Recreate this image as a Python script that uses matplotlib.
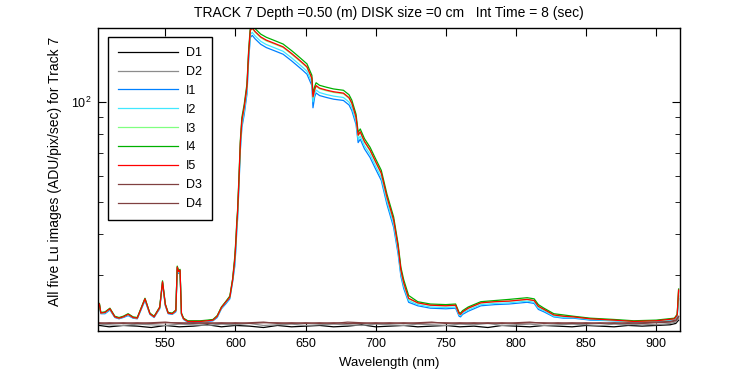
import numpy as np
import matplotlib.pyplot as plt
from matplotlib.ticker import NullFormatter, LogLocator, FixedLocator

plt.rcParams['font.family'] = ['Liberation Sans', 'DejaVu Sans']
plt.rcParams['mathtext.default'] = 'regular'

# wavelength grid for the illuminated images (nm)
wl = [503, 504, 507, 510.5, 514, 517, 520, 523.5, 527, 530, 535.5, 539, 542, 546, 548, 550, 552, 555,
      557.5, 558.5, 559.5, 560.5, 561.5, 563, 566, 570, 575, 580, 584, 587, 590, 593, 596, 598,
      599.5, 600.3, 601, 601.5, 602.5, 603.5, 604.6, 606.3, 608.2, 609.4, 610.6, 612, 614, 618, 622,
      628, 634, 640, 644, 648, 651, 654.5, 655.3, 656.5, 657.5, 660, 665, 670, 677, 681, 683, 686,
      687.5, 689, 692, 696, 700, 704, 708, 712.8, 716, 718, 720, 723.5,
      730, 739, 750, 757, 759.5, 760.5, 762, 766, 775, 785, 795, 808, 813, 816, 820, 827, 834, 841,
      853, 870, 884, 900, 913, 915, 916]

I1 = [24.4, 23.0, 23.0, 23.6, 22.4, 22.2, 22.4, 22.7, 22.3, 22.2, 25.2, 22.9, 22.4, 23.8, 28.4, 24.3, 23.0, 22.9,
      23.3, 31.4, 30.4, 30.7, 22.9, 22.1, 21.7, 21.7, 21.7, 21.8, 21.9, 22.4, 23.8, 24.6, 25.5, 28.7,
      31.9, 35.9, 41.2, 44.1, 55.5, 71.4, 83.7, 91.9, 105.5, 133, 156.3, 158.7, 154.9, 149.2, 145.8,
      142.5, 139.2, 133, 128.7, 124.5, 121.2, 112, 96, 103.6, 106.4, 104.5, 103.1, 101.9, 101, 97.9, 94.2, 85.5,
      75.4, 77.2, 72.2, 68, 62.7, 58, 49.2, 41.9, 34.8, 29.8, 27.4, 24.9,
      24.3, 23.9, 23.8, 23.9, 22.6, 22.5, 22.9, 23.4, 24.3, 24.5, 24.6, 24.9, 24.7, 23.7, 23.3, 22.5, 22.3, 22.3,
      22.0, 21.9, 21.7, 21.8, 22.1, 22.6, 25.5]

I2 = [24.5, 23.1, 23.1, 23.7, 22.5, 22.3, 22.5, 22.8, 22.4, 22.3, 25.4, 23.0, 22.5, 23.9, 28.6, 24.4, 23.1, 23.0,
      23.4, 31.6, 30.6, 30.9, 23.0, 22.2, 21.8, 21.8, 21.8, 21.9, 22.0, 22.5, 23.9, 24.8, 25.7, 28.9,
      32.6, 36.6, 41.9, 44.9, 56.4, 73.0, 85.5, 93.8, 107.7, 135.8, 159.6, 162, 158.1, 152.3, 148.9,
      145.5, 142.1, 135.8, 131.4, 127.1, 123.8, 114.4, 100, 105.7, 108.6, 106.7, 105.2, 104.1, 103.1, 99.9, 96.2, 87.3,
      77, 78.9, 73.7, 69.5, 64, 59.2, 50.2, 42.8, 35.5, 30.3, 27.9, 25.2,
      24.5, 24.1, 24.0, 24.1, 22.8, 22.7, 23.1, 23.6, 24.5, 24.7, 24.8, 25.1, 24.9, 23.9, 23.5, 22.6, 22.4, 22.4,
      22.1, 21.9, 21.7, 21.8, 22.1, 22.7, 26.0]

I3 = [24.6, 23.1, 23.2, 23.8, 22.5, 22.3, 22.5, 22.9, 22.4, 22.3, 25.5, 23.0, 22.5, 24.0, 28.7, 24.5, 23.1, 23.0,
      23.5, 31.8, 30.8, 31.1, 23.0, 22.2, 21.8, 21.8, 21.8, 21.9, 22.0, 22.6, 24.0, 24.9, 25.8, 29.1,
      33.3, 37.5, 42.9, 46.0, 57.8, 74.8, 87.7, 96.2, 110.4, 139.3, 163.7, 166.2, 162.2, 156.2, 152.7,
      149.3, 145.8, 139.3, 134.8, 130.3, 127, 117.3, 103.1, 108.5, 111.4, 109.5, 108, 106.8, 105.8, 102.5, 98.7, 89.6,
      79, 80.9, 75.6, 71.2, 65.7, 60.7, 51.5, 43.9, 36.4, 31, 28.4, 25.5,
      24.8, 24.4, 24.3, 24.4, 23.0, 22.9, 23.3, 23.9, 24.8, 25.0, 25.1, 25.4, 25.2, 24.2, 23.7, 22.8, 22.6, 22.5,
      22.2, 22.0, 21.8, 21.9, 22.2, 22.8, 26.8]

I4 = [24.7, 23.2, 23.3, 23.9, 22.6, 22.4, 22.6, 23.0, 22.5, 22.4, 25.6, 23.1, 22.6, 24.1, 28.9, 24.6, 23.2, 23.1,
      23.6, 32.0, 31.0, 31.3, 23.1, 22.3, 21.9, 21.9, 21.9, 22.0, 22.1, 22.7, 24.1, 25.0, 26.0, 29.3,
      34.1, 38.4, 44, 47.1, 59.3, 76.7, 89.9, 98.6, 113.2, 142.8, 167.8, 170.3, 166.3, 160.1, 156.6,
      153, 149.4, 142.8, 138.2, 133.6, 130.2, 120.3, 105.7, 111.2, 114.2, 112.2, 110.7, 109.4, 108.4, 105.1, 101.2, 91.8,
      81, 82.9, 77.5, 73, 67.3, 62.2, 52.8, 45, 37.3, 31.7, 29.1, 26.1,
      25.0, 24.6, 24.5, 24.6, 23.2, 23.1, 23.5, 24.1, 25.0, 25.2, 25.4, 25.7, 25.5, 24.5, 23.9, 23.0, 22.8, 22.6,
      22.3, 22.1, 21.9, 22.0, 22.3, 22.9, 27.3]

I5 = [24.6, 23.1, 23.2, 23.8, 22.5, 22.3, 22.5, 22.9, 22.4, 22.3, 25.5, 23.0, 22.5, 24.0, 28.7, 24.5, 23.1, 23.0,
      23.5, 31.8, 30.8, 31.1, 23.0, 22.2, 21.8, 21.8, 21.8, 21.9, 22.0, 22.6, 24.0, 24.9, 25.8, 29.1,
      33.4, 37.6, 43.1, 46.2, 58.1, 75.2, 88.1, 96.7, 111, 140, 164.5, 167, 163, 157, 153.5,
      150, 146.5, 140, 135.5, 131, 127.6, 117.9, 103.6, 109, 112, 110, 108.5, 107.3, 106.3, 103, 99.2, 90,
      79.4, 81.3, 76, 71.6, 66, 61, 51.8, 44.1, 36.6, 31.1, 28.5, 25.6,
      24.8, 24.4, 24.3, 24.4, 23.0, 22.9, 23.3, 23.9, 24.8, 25.0, 25.1, 25.4, 25.2, 24.2, 23.7, 22.8, 22.6, 22.5,
      22.2, 22.0, 21.8, 21.9, 22.2, 22.8, 27.1]

# dark images
dark_wl = [503, 510, 520, 530, 540, 550, 560, 570, 580, 590, 600, 610, 620, 630, 640, 650, 660, 670, 680, 690,
           700, 710, 720, 730, 740, 750, 760, 770, 780, 790, 800, 810, 820, 830, 840, 850, 860, 870, 880, 890,
           900, 910, 914, 916]
D1 = [21.2, 21.0, 21.2, 21.1, 20.9, 21.2, 21.0, 21.1, 21.3, 21.0, 21.2, 21.1, 20.9, 21.2, 21.0, 21.1, 21.2, 21.0,
      21.1, 21.3, 21.0, 21.1, 21.2, 21.0, 21.1, 21.2, 21.0, 21.1, 20.9, 21.2, 21.1, 21.0, 21.2, 21.1, 21.0, 21.2,
      21.1, 21.0, 21.2, 21.1, 21.2, 21.3, 21.5, 22.0]
D2 = [21.4, 21.3, 21.2, 21.4, 21.3, 21.2, 21.4, 21.3, 21.2, 21.4, 21.3, 21.5, 21.2, 21.3, 21.4, 21.2, 21.3, 21.4,
      21.3, 21.2, 21.4, 21.3, 21.2, 21.4, 21.3, 21.2, 21.4, 21.3, 21.5, 21.2, 21.3, 21.4, 21.2, 21.3, 21.4, 21.3,
      21.2, 21.4, 21.3, 21.4, 21.3, 21.5, 21.7, 22.3]
D3 = [21.6, 21.5, 21.6, 21.5, 21.6, 21.7, 21.5, 21.6, 21.5, 21.6, 21.5, 21.6, 21.7, 21.5, 21.6, 21.5, 21.6, 21.5,
      21.7, 21.6, 21.5, 21.6, 21.5, 21.6, 21.7, 21.5, 21.6, 21.5, 21.6, 21.5, 21.6, 21.7, 21.5, 21.6, 21.5, 21.6,
      21.5, 21.6, 21.5, 21.6, 21.7, 21.8, 22.0, 22.6]
D4 = [21.5, 21.6, 21.5, 21.6, 21.5, 21.6, 21.6, 21.5, 21.6, 21.5, 21.6, 21.5, 21.6, 21.6, 21.5, 21.6, 21.5, 21.6,
      21.5, 21.5, 21.6, 21.5, 21.6, 21.5, 21.6, 21.6, 21.5, 21.6, 21.5, 21.6, 21.5, 21.6, 21.6, 21.5, 21.6, 21.5,
      21.6, 21.5, 21.6, 21.5, 21.6, 21.7, 21.9, 22.5]

series = [
    ("D1", dark_wl, D1, "black"),
    ("D2", dark_wl, D2, "#8c8c8c"),
    ("I1", wl, I1, "#0080ff"),
    ("I2", wl, I2, "#40e8ff"),
    ("I3", wl, I3, "#80ff80"),
    ("I4", wl, I4, "#00b000"),
    ("I5", wl, I5, "#ff0000"),
    ("D3", dark_wl, D3, "#804040"),
    ("D4", dark_wl, D4, "#804040"),
]

fig = plt.figure(figsize=(7.5, 3.75), dpi=100)
ax = fig.add_axes([98/750, 44/375, 582/750, 303/375])

for name, x, y, c in series:
    ax.plot(x, y, color=c, lw=0.9, label=name)

ax.set_yscale("log")
ax.set_xlim(502, 917)
ax.set_ylim(20.4, 167)
ax.xaxis.set_major_locator(FixedLocator([550, 600, 650, 700, 750, 800, 850, 900]))
ax.yaxis.set_major_locator(LogLocator(base=10))
ax.yaxis.set_minor_locator(LogLocator(base=10, subs=np.arange(2, 10)))
ax.yaxis.set_minor_formatter(NullFormatter())
ax.tick_params(which="both", direction="in", top=True, right=True, labelsize=9)
ax.tick_params(which="major", length=6, pad=5)
ax.tick_params(which="minor", length=3.5)
for s in ax.spines.values():
    s.set_linewidth(1.0)

ax.set_xlabel("Wavelength (nm)", fontsize=9.5, labelpad=5)
ax.set_ylabel("All five Lu images (ADU/pix/sec) for Track 7", fontsize=10)
ax.yaxis.set_label_coords(-0.062, 0.526)
ax.set_title("TRACK 7 Depth =0.50 (m) DISK size =0 cm   Int Time = 8 (sec)", fontsize=10, pad=8)

leg = ax.legend(loc="upper left", fontsize=9, handlelength=4.8, handletextpad=0.65, fancybox=False,
                framealpha=1, edgecolor="black", borderpad=0.8, labelspacing=0.55,
                borderaxespad=0, bbox_to_anchor=(0.0172, 0.970))
leg.get_frame().set_linewidth(1.0)

fig.savefig("out.png", dpi=100)
